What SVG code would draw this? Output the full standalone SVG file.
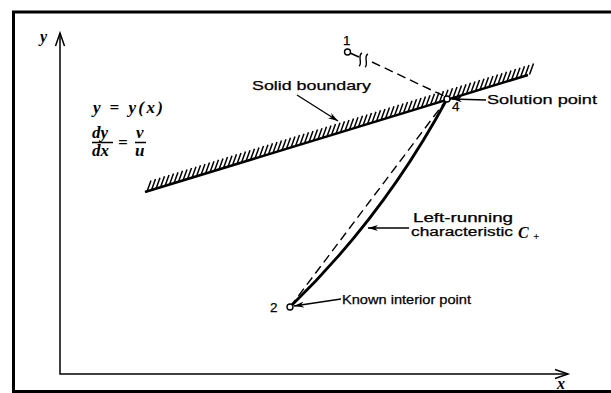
<svg xmlns="http://www.w3.org/2000/svg" width="611" height="393" viewBox="0 0 611 393">
<defs>
<style>
.lbl{font-family:"Liberation Sans",Arial,sans-serif;font-size:13.5px;fill:#000;stroke:#000;stroke-width:0.25}
.sm{font-size:12.5px}
.math{font-family:"Liberation Serif","Times New Roman",serif;font-style:italic;font-weight:bold;fill:#000}
.ln{stroke:#000;fill:none}
.dash{stroke:#000;fill:none;stroke-width:1.4;stroke-dasharray:9 5}
.pt{fill:#fff;stroke:#000;stroke-width:1.4}
</style>
<marker id="ah" viewBox="0 0 10 6" refX="10" refY="3" markerWidth="10" markerHeight="6" markerUnits="userSpaceOnUse" orient="auto">
<path d="M0,0 L10,3 L0,6 L3,3 Z" fill="#000"/>
</marker>
</defs>
<rect width="611" height="393" fill="#fff"/>
<g id="frame">
<path class="ln" stroke-width="3" d="M13.5,392 V12 H611 M12,391.5 H611"/>
</g>
<g id="axes">
<path class="ln" stroke-width="1.5" d="M60,33 V374 H568"/>
<path class="ln" stroke-width="1.5" d="M55.5,46 L60,33 L64.5,46 M555,369.5 L568,374 L555,378.5"/>
<text class="math" x="40" y="42" font-size="16">y</text>
<text class="math" x="557" y="389" font-size="16">x</text>
</g>
<g id="equations">
<text class="math" x="93" y="113" font-size="17" textLength="70" lengthAdjust="spacing">y = y(x)</text>
<text class="math" x="92" y="138" font-size="17">dy</text>
<path class="ln" stroke-width="1.4" d="M92,142.5 H113 M135,142.5 H146"/>
<text class="math" x="92" y="156" font-size="17">dx</text>
<text class="math" x="118" y="148" font-size="17">=</text>
<text class="math" x="136" y="138" font-size="17">v</text>
<text class="math" x="135" y="156" font-size="17">u</text>
</g>
<g id="boundary">
<path class="ln" stroke-width="2.5" d="M145,192 L528,75"/>
<path class="ln" stroke-width="1.5" d="M147,191.4 l4,-11 m0.5,9.625 l4,-11 m0.5,9.625 l4,-11 m0.5,9.625 l4,-11 m0.5,9.625 l4,-11 m0.5,9.625 l4,-11 m0.5,9.625 l4,-11 m0.5,9.625 l4,-11 m0.5,9.625 l4,-11 m0.5,9.625 l4,-11 m0.5,9.625 l4,-11 m0.5,9.625 l4,-11 m0.5,9.625 l4,-11 m0.5,9.625 l4,-11 m0.5,9.625 l4,-11 m0.5,9.625 l4,-11 m0.5,9.625 l4,-11 m0.5,9.625 l4,-11 m0.5,9.625 l4,-11 m0.5,9.625 l4,-11 m0.5,9.625 l4,-11 m0.5,9.625 l4,-11 m0.5,9.625 l4,-11 m0.5,9.625 l4,-11 m0.5,9.625 l4,-11 m0.5,9.625 l4,-11 m0.5,9.625 l4,-11 m0.5,9.625 l4,-11 m0.5,9.625 l4,-11 m0.5,9.625 l4,-11 m0.5,9.625 l4,-11 m0.5,9.625 l4,-11 m0.5,9.625 l4,-11 m0.5,9.625 l4,-11 m0.5,9.625 l4,-11 m0.5,9.625 l4,-11 m0.5,9.625 l4,-11 m0.5,9.625 l4,-11 m0.5,9.625 l4,-11 m0.5,9.625 l4,-11 m0.5,9.625 l4,-11 m0.5,9.625 l4,-11 m0.5,9.625 l4,-11 m0.5,9.625 l4,-11 m0.5,9.625 l4,-11 m0.5,9.625 l4,-11 m0.5,9.625 l4,-11 m0.5,9.625 l4,-11 m0.5,9.625 l4,-11 m0.5,9.625 l4,-11 m0.5,9.625 l4,-11 m0.5,9.625 l4,-11 m0.5,9.625 l4,-11 m0.5,9.625 l4,-11 m0.5,9.625 l4,-11 m0.5,9.625 l4,-11 m0.5,9.625 l4,-11 m0.5,9.625 l4,-11 m0.5,9.625 l4,-11 m0.5,9.625 l4,-11 m0.5,9.625 l4,-11 m0.5,9.625 l4,-11 m0.5,9.625 l4,-11 m0.5,9.625 l4,-11 m0.5,9.625 l4,-11 m0.5,9.625 l4,-11 m0.5,9.625 l4,-11 m0.5,9.625 l4,-11 m0.5,9.625 l4,-11 m0.5,9.625 l4,-11 m0.5,9.625 l4,-11 m0.5,9.625 l4,-11 m0.5,9.625 l4,-11 m0.5,9.625 l4,-11 m0.5,9.625 l4,-11 m0.5,9.625 l4,-11 m0.5,9.625 l4,-11 m0.5,9.625 l4,-11 m0.5,9.625 l4,-11 m0.5,9.625 l4,-11 m0.5,9.625 l4,-11 m0.5,9.625 l4,-11 m0.5,9.625 l4,-11 m0.5,9.625 l4,-11 m0.5,9.625 l4,-11 m0.5,9.625 l4,-11"/>
<text class="lbl" x="252" y="90" textLength="119" lengthAdjust="spacingAndGlyphs">Solid boundary</text>
</g>
<g id="connectors">
<path class="ln" stroke-width="1.3" d="M297,95 L338,121" marker-end="url(#ah)"/>
<path class="ln" stroke-width="1.3" d="M486,100 L452,99" marker-end="url(#ah)"/>
<path class="ln" stroke-width="1.3" d="M409,228 L368,228" marker-end="url(#ah)"/>
<path class="ln" stroke-width="1.3" d="M341,299 L294,306" marker-end="url(#ah)"/>
<path class="ln" stroke-width="1.4" d="M350,53 L359,57"/>
<path class="ln" stroke-width="1.4" d="M359,66 c4,-2 -2,-11 3,-13 M365,67 c4,-2 -2,-11 3,-13"/>
<path class="dash" d="M372,62 L444,96"/>
<path class="dash" d="M290,307 L447,99"/>
<path class="ln" stroke-width="2.8" d="M290,307 Q384,216 447,99"/>
</g>
<g id="node1">
<circle class="pt" cx="347.5" cy="52" r="3"/>
<text class="lbl" x="343" y="45">1</text>
</g>
<g id="node2">
<circle class="pt" cx="290" cy="307" r="3"/>
<text class="lbl" x="270" y="312">2</text>
<text class="lbl" x="342" y="304" textLength="129" lengthAdjust="spacingAndGlyphs">Known interior point</text>
</g>
<g id="node4">
<circle class="pt" cx="447" cy="99" r="3"/>
<text class="lbl" x="452" y="111">4</text>
<text class="lbl" x="487" y="104" textLength="110" lengthAdjust="spacingAndGlyphs">Solution point</text>
</g>
<g id="characteristic">
<text class="lbl sm" x="413" y="222" textLength="100" lengthAdjust="spacingAndGlyphs">Left-running</text>
<text class="lbl sm" x="411" y="236" textLength="102" lengthAdjust="spacingAndGlyphs">characteristic</text>
<text class="math" x="518" y="238" font-size="16">C</text>
<text class="math" x="533" y="240" font-size="11">+</text>
</g>
</svg>
